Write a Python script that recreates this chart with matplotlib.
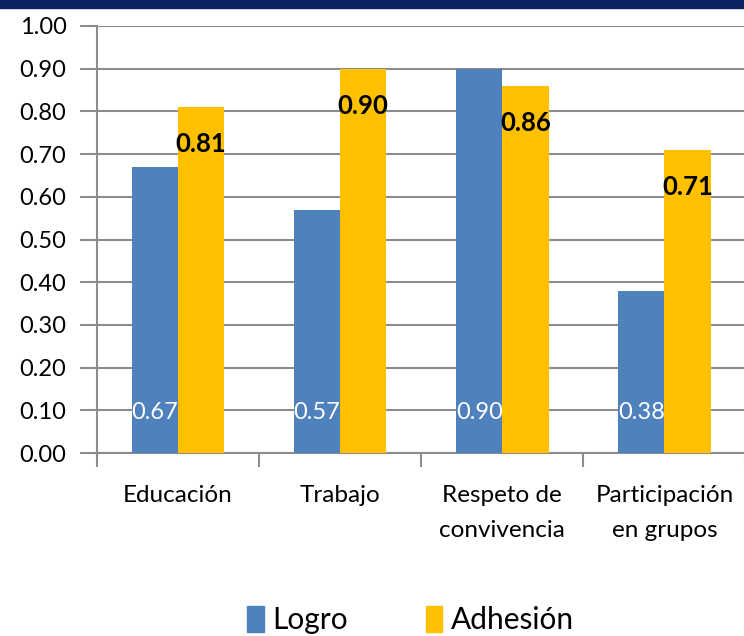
import matplotlib
matplotlib.use("Agg")
import matplotlib.pyplot as plt
from matplotlib.patches import Rectangle, Patch
import numpy as np

categories = ["Educación", "Trabajo", "Respeto de\nconvivencia", "Participación\nen grupos"]
logro = [0.67, 0.57, 0.90, 0.38]
adhesion = [0.81, 0.90, 0.86, 0.71]
yticks = [0.0, 0.1, 0.2, 0.3, 0.4, 0.5, 0.6, 0.7, 0.8, 0.9, 1.0]

plt.rcParams['font.family'] = ['Lato', 'DejaVu Sans']

fig = plt.figure(figsize=(7.44, 6.36), dpi=100)
fig.patches.append(Rectangle((0, 1 - 8/636), 1, 8/636, transform=fig.transFigure,
                             color='#0B2163', zorder=10))
ax = fig.add_axes([97/744, 1 - 453/636, 1 - 97/744 + 0.002, (453 - 26)/636])

x = np.arange(len(categories))
w = 0.285
blue = '#4F81BD'
yellow = '#FFC000'
ax.bar(x - w/2, logro, w, color=blue, zorder=3, label='Logro')
ax.bar(x + w/2, adhesion, w, color=yellow, zorder=3, label='Adhesión')

for xi, v in zip(x, logro):
    ax.text(xi - w/2, 0.094, f"{v:.2f}", ha='center', va='center', color='white',
            fontsize=17, zorder=5)
for xi, v in zip(x, adhesion):
    ax.text(xi + w/2, v - 0.087, f"{v:.2f}", ha='center', va='center', color='black',
            fontsize=18.5, fontweight='bold', zorder=5)

ax.set_xlim(-0.5, len(categories) - 0.5)
ax.set_ylim(0, 1.0)
ax.set_yticks(yticks)
ax.set_yticklabels([f"{t:.2f}" for t in yticks], fontsize=17)
ax.yaxis.grid(True, color='#8C8C8C', linewidth=1.5, zorder=0)
ax.tick_params(axis='y', length=12, width=1.5, color='#8C8C8C', pad=10)

ax.set_xticks(x)
ax.set_xticklabels(categories, fontsize=17.5, linespacing=1.85)
ax.tick_params(axis='x', which='major', length=0, pad=23)
ax.set_xticks(np.arange(len(categories) + 1) - 0.5, minor=True)
ax.tick_params(axis='x', which='minor', length=10, width=1.5, color='#8C8C8C')

for s in ['top', 'right']:
    ax.spines[s].set_visible(False)
for s in ['left', 'bottom']:
    ax.spines[s].set_color('#8C8C8C')
    ax.spines[s].set_linewidth(1.5)

handles = [Patch(color=blue, label='Logro'), Patch(color=yellow, label='Adhesión')]
fig.legend(handles=handles, loc='center', bbox_to_anchor=(0.552, 1 - 620/636), ncol=2,
           frameon=False, fontsize=21.5, handlelength=0.55, handleheight=1.0,
           handletextpad=0.3, columnspacing=2.6)

fig.savefig("out.png", dpi=100)
